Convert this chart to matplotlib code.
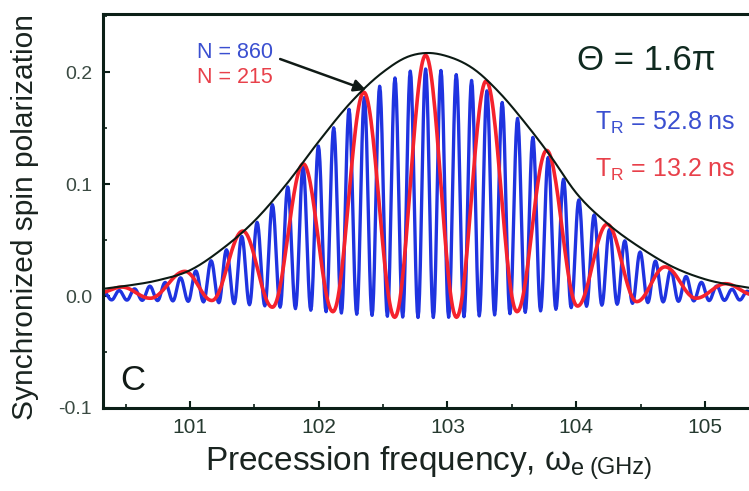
import numpy as np
import matplotlib
matplotlib.use("Agg")
import matplotlib.pyplot as plt
from matplotlib.ticker import MultipleLocator, FormatStrFormatter

# envelope (black)
env_x = [100.30, 100.50, 100.75, 101.00, 101.25, 101.50, 101.75, 102.00, 102.25, 102.50, 102.70, 102.85,
         103.00, 103.20, 103.40, 103.60, 103.80, 104.00, 104.25, 104.50, 104.75, 105.00, 105.36]
env_y = [0.006, 0.009, 0.014, 0.023, 0.042, 0.067, 0.100, 0.138, 0.173, 0.200, 0.214, 0.217,
         0.214, 0.203, 0.182, 0.155, 0.125, 0.092, 0.064, 0.043, 0.026, 0.015, 0.007]

# N = 215 (red): successive maxima / minima
red_x = [100.30, 100.47, 100.69, 100.96, 101.17, 101.41, 101.64, 101.88, 102.11, 102.35, 102.59, 102.83,
         103.07, 103.30, 103.54, 103.77, 104.01, 104.24, 104.47, 104.69, 104.93, 105.16, 105.38]
red_y = [0.003, 0.008, -0.002, 0.022, -0.004, 0.058, -0.010, 0.118, -0.014, 0.182, -0.019, 0.215,
         -0.019, 0.192, -0.014, 0.130, -0.009, 0.064, -0.005, 0.026, -0.002, 0.011, 0.001]

# N = 860 (blue): maxima and minima
blue_peak_x = [100.331, 100.450, 100.569, 100.688, 100.807, 100.926, 101.045, 101.164, 101.283, 101.402,
               101.521, 101.640, 101.759, 101.878, 101.997, 102.116, 102.235, 102.354, 102.473, 102.592,
               102.711, 102.830, 102.949, 103.068, 103.187, 103.306, 103.425, 103.544, 103.663, 103.782,
               103.901, 104.020, 104.139, 104.258, 104.377, 104.496, 104.615, 104.734, 104.853, 104.972,
               105.091, 105.210, 105.329]
blue_peak_y = [0.0036, 0.0049, 0.0064, 0.0088, 0.0121, 0.0163, 0.0224, 0.0315, 0.0413, 0.0532,
               0.0658, 0.0815, 0.0974, 0.1155, 0.1339, 0.1502, 0.1667, 0.1772, 0.1873, 0.1947,
               0.2008, 0.2027, 0.2014, 0.1977, 0.1925, 0.1832, 0.1728, 0.1586, 0.1416, 0.1237,
               0.1043, 0.0858, 0.0724, 0.0593, 0.0493, 0.0393, 0.0312, 0.0231, 0.0175, 0.0122,
               0.0089, 0.0060, 0.0043]
blue_dip_x = [100.272, 100.391, 100.510, 100.629, 100.748, 100.867, 100.986, 101.105, 101.224, 101.343,
              101.462, 101.581, 101.700, 101.819, 101.938, 102.057, 102.176, 102.295, 102.414, 102.533,
              102.652, 102.771, 102.890, 103.009, 103.128, 103.247, 103.366, 103.485, 103.604, 103.723,
              103.842, 103.961, 104.080, 104.199, 104.318, 104.437, 104.556, 104.675, 104.794, 104.913,
              105.032, 105.151, 105.270, 105.389]
blue_dip_y = [-0.0034, -0.0035, -0.0037, -0.0039, -0.0041, -0.0044, -0.0048, -0.0053, -0.0060, -0.0068,
              -0.0078, -0.0088, -0.0100, -0.0113, -0.0127, -0.0140, -0.0152, -0.0163, -0.0173, -0.0181,
              -0.0188, -0.0192, -0.0192, -0.0190, -0.0185, -0.0178, -0.0169, -0.0158, -0.0146, -0.0133,
              -0.0119, -0.0104, -0.0092, -0.0082, -0.0074, -0.0066, -0.0059, -0.0053, -0.0048, -0.0044,
              -0.0041, -0.0039, -0.0036, -0.0034]

x_ticks = [101, 102, 103, 104, 105]
y_ticks = [-0.1, 0.0, 0.1, 0.2]


def wave(xs, ys, n=16):
    # draw a smooth swing between each pair of extrema
    px, py = [], []
    for i in range(len(xs) - 1):
        t = np.linspace(0, 1, n, endpoint=False)
        s = (1 - np.cos(np.pi * t)) / 2
        px.append(xs[i] + (xs[i + 1] - xs[i]) * t)
        py.append(ys[i] + (ys[i + 1] - ys[i]) * s)
    px.append([xs[-1]])
    py.append([ys[-1]])
    return np.concatenate(px), np.concatenate(py)


def smooth(xs, ys, n=20):
    xs = np.asarray(xs)
    ys = np.asarray(ys)
    m = np.gradient(ys, xs)
    px, py = [], []
    for i in range(len(xs) - 1):
        h = xs[i + 1] - xs[i]
        t = np.linspace(0, 1, n, endpoint=False)
        h00 = 2 * t**3 - 3 * t**2 + 1
        h10 = t**3 - 2 * t**2 + t
        h01 = -2 * t**3 + 3 * t**2
        h11 = t**3 - t**2
        px.append(xs[i] + h * t)
        py.append(h00 * ys[i] + h10 * h * m[i] + h01 * ys[i + 1] + h11 * h * m[i + 1])
    px.append([xs[-1]])
    py.append([ys[-1]])
    return np.concatenate(px), np.concatenate(py)


plt.rcParams["font.family"] = ["Liberation Sans", "DejaVu Sans"]
plt.rcParams["mathtext.fontset"] = "custom"
plt.rcParams["mathtext.rm"] = "Liberation Sans"
plt.rcParams["mathtext.default"] = "regular"
plt.rcParams["axes.unicode_minus"] = False

W, H = 749, 491
fig = plt.figure(figsize=(W / 100, H / 100), dpi=100)
ax = fig.add_axes([103 / W, 1 - 408 / H, 1 - 103 / W, (408 - 14) / H])

order = np.argsort(blue_peak_x + blue_dip_x)
bx = np.array(blue_peak_x + blue_dip_x)[order]
by = np.array(blue_peak_y + blue_dip_y)[order]
x, y = wave(bx, by, 10)
ax.plot(x, y, color="#1f33e0", lw=2.4, solid_joinstyle="round")

x, y = wave(red_x, red_y, 30)
ax.plot(x, y, color="#f5222d", lw=2.6)

x, y = smooth(env_x, env_y)
ax.plot(x, y, color="#0c1a14", lw=1.5)

ax.set_xlim(100.324, 105.342)
ax.set_ylim(-0.1, 0.2518)
ax.set_xticks(x_ticks)
ax.set_yticks(y_ticks)
ax.yaxis.set_major_formatter(FormatStrFormatter("%.1f"))
ax.xaxis.set_minor_locator(MultipleLocator(0.5))
ax.yaxis.set_minor_locator(MultipleLocator(0.05))

spine_col = "#0b1f17"
for side in ["left", "bottom", "top"]:
    ax.spines[side].set_linewidth(2.2)
    ax.spines[side].set_color(spine_col)
ax.spines["right"].set_visible(False)
ax.tick_params(which="both", direction="in", color=spine_col, top=False, right=False)
ax.tick_params(which="major", length=5, width=1.5)
ax.tick_params(which="minor", length=3, width=1.2)
ax.tick_params(axis="x", labelsize=15, pad=7, labelcolor="#263a30")
ax.tick_params(axis="y", labelsize=14, pad=8, labelcolor="#3a4a42")


def px(xp, yp):
    return xp / W, 1 - yp / H


fig.text(*px(25, 217), "Synchronized spin polarization", rotation=90, ha="center", va="center",
         fontsize=21.5, color="#1a2420")
lab = fig.text(*px(205, 470), "Precession frequency, ω$_\\mathregular{e}$", ha="left", va="baseline",
               fontsize=24, color="#1a2420")
ax.annotate("(GHz)", xy=(1, 0), xycoords=lab, xytext=(3, 0), textcoords="offset points",
            ha="left", va="bottom", fontsize=17, color="#1a2420", annotation_clip=False)

fig.text(*px(197, 58), "N = 860", fontsize=15.5, color="#3a4fd0", va="baseline")
fig.text(*px(197, 83), "N = 215", fontsize=15.5, color="#e8404a", va="baseline")
ax.annotate("", xy=(102.367, 0.184), xytext=(101.70, 0.2116),
            arrowprops=dict(arrowstyle="-|>", lw=1.8, color="#101a16", mutation_scale=18,
                            shrinkA=0, shrinkB=0))

fig.text(*px(577, 70), "Θ = 1.6π", fontsize=25, color="#102a20", va="baseline")
fig.text(*px(595, 130), "T$_\\mathregular{R}$ = 52.8 ns", fontsize=18, color="#3a4fd0", va="baseline")
fig.text(*px(595, 177), "T$_\\mathregular{R}$ = 13.2 ns", fontsize=18, color="#e8404a", va="baseline")
fig.text(*px(120, 390), "C", fontsize=25, color="#111a16", va="baseline")

fig.savefig("out.png", dpi=100)
